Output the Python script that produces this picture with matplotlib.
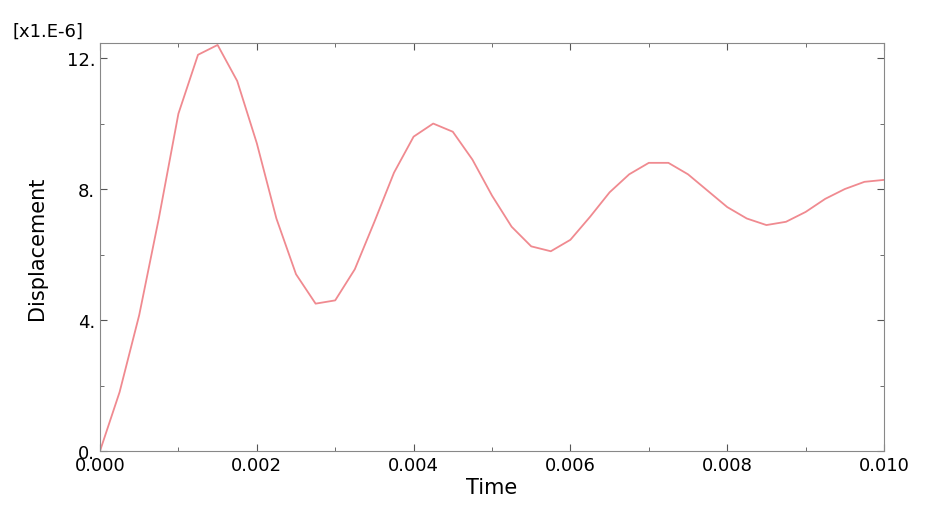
import matplotlib
matplotlib.use("Agg")
import matplotlib.pyplot as plt
import numpy as np
from matplotlib.ticker import MultipleLocator

time = np.arange(41) * 0.00025
disp = [0, 1.8, 4.15, 7.1, 10.3, 12.1, 12.4, 11.3, 9.4, 7.1, 5.4, 4.5, 4.6, 5.55, 7.0,
        8.5, 9.6, 10.0, 9.75, 8.9, 7.8, 6.85, 6.25, 6.1, 6.45, 7.15, 7.9, 8.45, 8.8, 8.8,
        8.45, 7.95, 7.45, 7.1, 6.9, 7.0, 7.3, 7.7, 8.0, 8.22, 8.28]
xticks = [0, 0.002, 0.004, 0.006, 0.008, 0.010]
xlabels = ["0.000", "0.002", "0.004", "0.006", "0.008", "0.010"]
yticks = [0, 4, 8, 12]
ylabels = ["0.", "4.", "8.", "12."]

fig = plt.figure(figsize=(9.36, 5.10), dpi=100)
ax = fig.add_axes([100/936, 1-452/510, 784/936, 408/510])
ax.plot(time, disp, color="#f08a90", lw=1.3)
ax.set_xlim(0, 0.010)
ax.set_ylim(0, 12.46)
ax.set_xticks(xticks)
ax.set_xticklabels(xlabels)
ax.xaxis.set_minor_locator(MultipleLocator(0.001))
ax.set_yticks(yticks)
ax.set_yticklabels(ylabels)
ax.yaxis.set_minor_locator(MultipleLocator(2))
ax.tick_params(which="both", direction="in", top=True, right=True, labelsize=13, color="#555555")
ax.tick_params(which="major", length=5)
ax.tick_params(which="minor", length=3)
for s in ax.spines.values():
    s.set_color("#888888")
ax.set_xlabel("Time", fontsize=15, labelpad=2)
ax.set_ylabel("Displacement", fontsize=15, labelpad=14)
fig.text(12/936, 1-32/510, "[x1.E-6]", fontsize=13, va="center")
fig.savefig("out.png", dpi=100)
